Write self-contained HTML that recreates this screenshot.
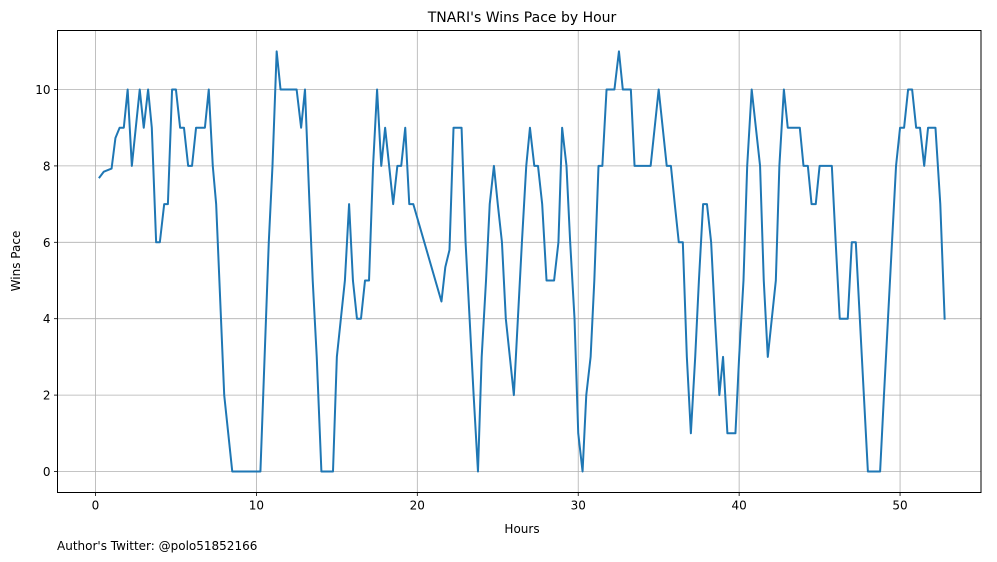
<!DOCTYPE html>
<html><head><meta charset="utf-8"><style>
html,body{margin:0;padding:0;background:#fff;}
svg{display:block;font-family:"DejaVu Sans","Liberation Sans",sans-serif;}
</style></head><body>
<svg id="chart" width="997" height="562" viewBox="0 0 997 562">
<rect x="0" y="0" width="997" height="562" fill="#fff"/>
<g id="grid"></g>
<g id="series"></g>
<rect x="57.5" y="30.5" width="923.5" height="462" fill="none" stroke="#000" stroke-width="1"/>
<g id="ticks"></g>
<text x="522" y="22" font-size="14" text-anchor="middle">TNARI's Wins Pace by Hour</text>
<text x="522" y="533" font-size="12" text-anchor="middle">Hours</text>
<text transform="translate(20,261) rotate(-90)" font-size="12" text-anchor="middle">Wins Pace</text>
<text x="57" y="550" font-size="12">Author's Twitter: @polo51852166</text>
</svg>
<script>
const hours=[0.25,0.52,1.0,1.24,1.5,1.76,2.0,2.26,2.75,3.0,3.27,3.5,3.77,4.0,4.27,4.5,4.76,5.0,5.26,5.5,5.76,6.0,6.25,6.8,7.04,7.29,7.5,8.0,8.5,10.25,10.77,11.0,11.26,11.5,12.5,12.78,13.02,13.3,13.5,13.75,14.04,14.76,15.0,15.5,15.76,16.0,16.25,16.5,16.75,17.0,17.25,17.5,17.76,18.0,18.5,18.76,19.0,19.25,19.5,19.75,21.5,21.74,22.0,22.25,22.75,23.0,23.25,23.5,23.77,24.0,24.27,24.5,24.76,25.0,25.26,25.5,26.0,26.5,26.77,27.0,27.27,27.5,27.76,28.03,28.5,28.77,29.0,29.27,29.5,29.77,30.0,30.27,30.5,30.77,31.0,31.26,31.5,31.76,32.25,32.53,32.77,33.27,33.5,34.5,35.0,35.5,35.76,36.0,36.25,36.5,36.75,37.0,37.27,37.5,37.76,38.0,38.26,38.5,38.77,39.0,39.27,39.77,40.0,40.27,40.5,40.78,41.3,41.53,41.78,42.28,42.5,42.78,43.02,43.77,44.0,44.27,44.5,44.76,45.0,45.76,46.0,46.25,46.75,47.0,47.25,47.5,47.75,48.0,48.76,49.0,49.25,49.5,49.75,50.0,50.25,50.5,50.75,51.0,51.24,51.5,51.74,52.2,52.5,52.77];
const pace=[7.7,7.85,7.93,8.73,9,9,10,8,10,9,10,9,6,6,7,7,10,10,9,9,8,8,9,9,10,8,7,2,0,0,6,8,11,10,10,9,10,7,5,3,0,0,3,5,7,5,4,4,5,5,8,10,8,9,7,8,8,9,7,7,4.45,5.35,5.8,9,9,6,4,2,0,3,5,7,8,7,6,4,2,6,8,9,8,8,7,5,5,6,9,8,6,4,1,0,2,3,5,8,8,10,10,11,10,10,8,8,10,8,8,7,6,6,3,1,3,5,7,7,6,4,2,3,1,1,3,5,8,10,8,5,3,5,8,10,9,9,8,8,7,7,8,8,6,4,4,6,6,4,2,0,0,2,4,6,8,9,9,10,10,9,9,8,9,9,7,4];
const xTicks=[0,10,20,30,40,50];
const yTicks=[0,2,4,6,8,10];
const L=57.5,R=981,T=30.5,B=492.5;
const xMin=-2.36,xMax=55.03,yMin=-0.55,yMax=11.545;
function sx(v){return L+(v-xMin)/(xMax-xMin)*(R-L);}
function sy(v){return B-(v-yMin)/(yMax-yMin)*(B-T);}
const NS='http://www.w3.org/2000/svg';
const grid=document.getElementById('grid'),ticks=document.getElementById('ticks'),series=document.getElementById('series');
function mk(tag,attrs,parent){const e=document.createElementNS(NS,tag);for(const k in attrs)e.setAttribute(k,attrs[k]);parent.appendChild(e);return e;}
xTicks.forEach(t=>{
  const x=sx(t);
  const g=mk('line',{x1:x,x2:x,y1:T,y2:B,stroke:'#b0b0b0','stroke-width':0.8},grid);
  
  
  const tk=mk('line',{x1:x,x2:x,y1:B,y2:B+3.5,stroke:'#000','stroke-width':0.8},ticks);
  
  
  const lb=mk('text',{x:x,y:B+17,'font-size':12,'text-anchor':'middle'},ticks);
  lb.textContent=t;
  
  
});
yTicks.forEach(t=>{
  const y=sy(t);
  const g=mk('line',{x1:L,x2:R,y1:y,y2:y,stroke:'#b0b0b0','stroke-width':0.8},grid);
  
  
  const tk=mk('line',{x1:L-3.5,x2:L,y1:y,y2:y,stroke:'#000','stroke-width':0.8},ticks);
  
  
  const lb=mk('text',{x:L-7,y:y+4.5,'font-size':12,'text-anchor':'end'},ticks);
  lb.textContent=t;
  
  
});
const pts=hours.map((h,i)=>sx(h).toFixed(2)+','+sy(pace[i]).toFixed(2)).join(' ');
const line=mk('polyline',{points:pts,fill:'none',stroke:'#1f77b4','stroke-width':2,'stroke-linejoin':'round','stroke-linecap':'square'},series);


</script>
</body></html>
